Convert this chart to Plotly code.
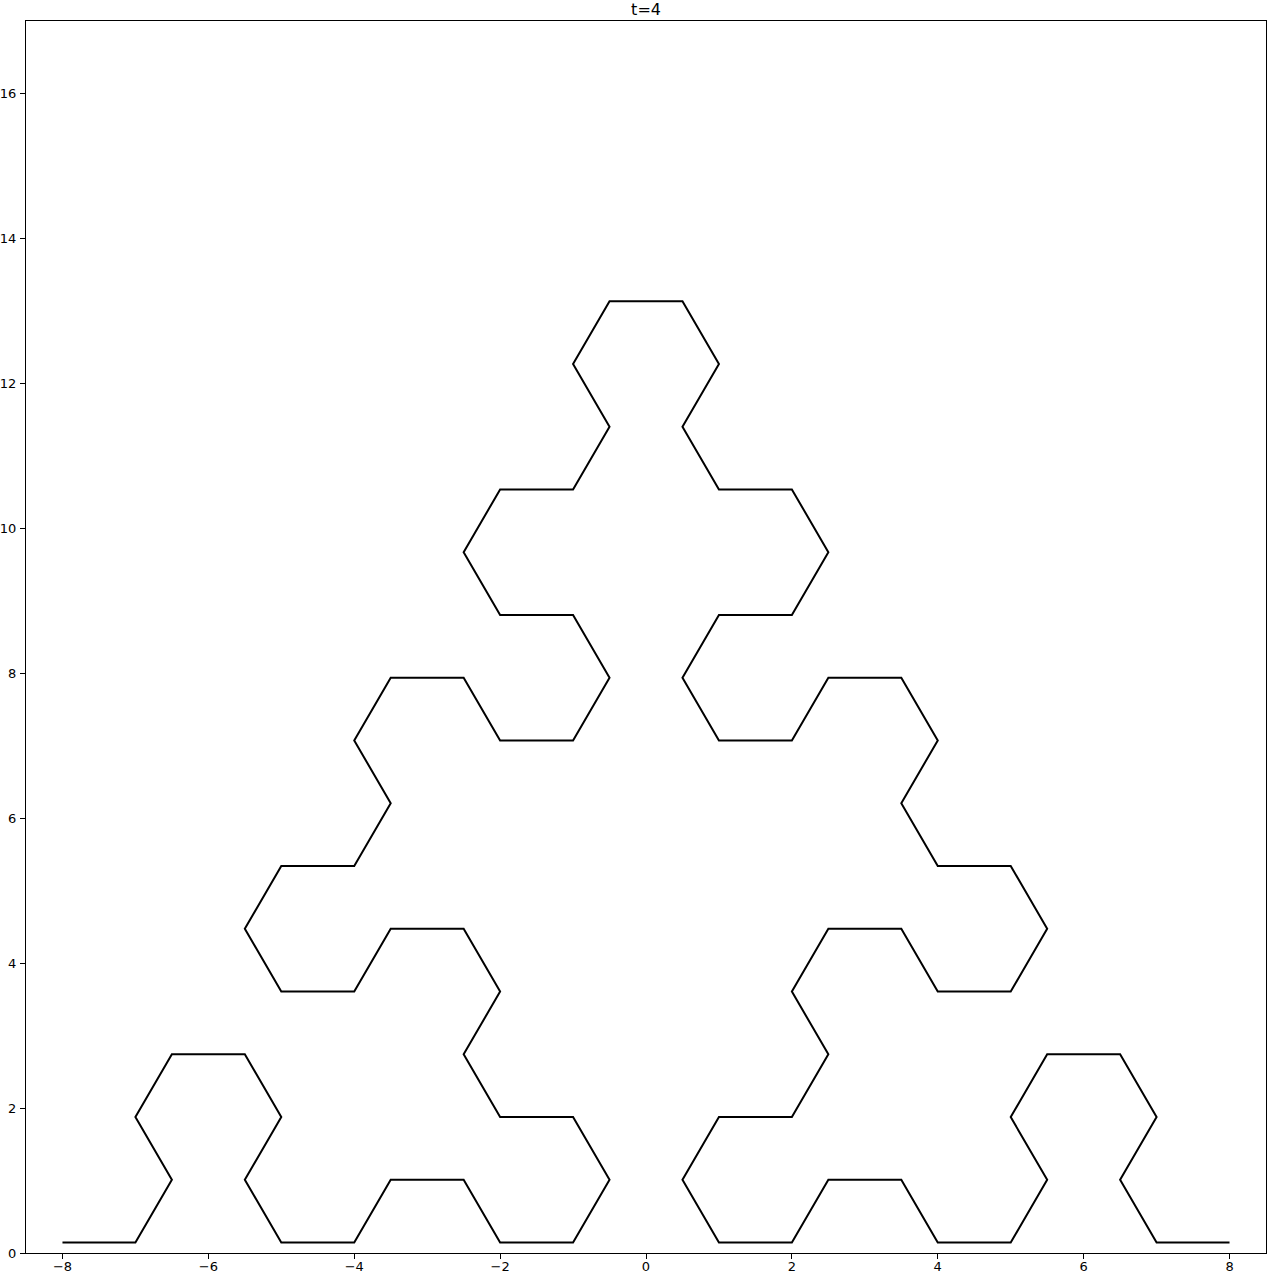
import plotly.graph_objects as go

# Vertices of the curve (corners)
x_pts = [-8, -7, -6.5, -7, -6.5, -5.5, -5, -5.5, -5, -4, -3.5, -2.5, -2, -1, -0.5, -1, -2, -2.5,
         -2, -2.5, -3.5, -4, -5, -5.5, -5, -4, -3.5, -4, -3.5, -2.5, -2, -1, -0.5, -1, -2, -2.5,
         -2, -1, -0.5, -1, -0.5, 0.5, 1, 0.5, 1, 2, 2.5, 2, 1, 0.5, 1, 2, 2.5, 3.5, 4, 3.5, 4, 5,
         5.5, 5, 4, 3.5, 2.5, 2, 2.5, 2, 1, 0.5, 1, 2, 2.5, 3.5, 4, 5, 5.5, 5, 5.5, 6.5, 7, 6.5, 7, 8]
levels = [0.144, 1.010, 1.876, 2.742, 3.608, 4.474, 5.340, 6.206, 7.072, 7.938, 8.804,
          9.670, 10.536, 11.402, 12.268, 13.134]
lvl_idx = [0, 0, 1, 2, 3, 3, 2, 1, 0, 0, 1, 1, 0, 0, 1, 2, 2, 3,
           4, 5, 5, 4, 4, 5, 6, 6, 7, 8, 9, 9, 8, 8, 9, 10, 10, 11,
           12, 12, 13, 14, 15, 15, 14, 13, 12, 12, 11, 10, 10, 9, 8, 8, 9, 9, 8, 7, 6, 6,
           5, 4, 4, 5, 5, 4, 3, 2, 2, 1, 0, 0, 1, 1, 0, 0, 1, 2, 3, 3, 2, 1, 0, 0]
y_pts = [levels[i] for i in lvl_idx]

x_ticks = [-8, -6, -4, -2, 0, 2, 4, 6, 8]
y_ticks = [0, 2, 4, 6, 8, 10, 12, 14, 16]

fig = go.Figure()
fig.add_trace(go.Scatter(x=x_pts, y=y_pts, mode="lines",
                         line=dict(color="black", width=2), showlegend=False,
                         hoverinfo="skip"))

axis_common = dict(showgrid=False, zeroline=False, showline=True, linecolor="black",
                   linewidth=1, mirror=True, ticks="outside", ticklen=5, tickwidth=1,
                   tickcolor="black", automargin=False,
                   tickfont=dict(family="DejaVu Sans", size=13, color="black"))
fig.update_xaxes(range=[-8.5, 8.5], tickvals=x_ticks, ticklabelstandoff=-4, **axis_common)
fig.update_yaxes(range=[0, 17], tickvals=y_ticks, ticklabelstandoff=1, **axis_common)

fig.update_layout(
    width=1268, height=1274,
    margin=dict(l=26, r=2, t=21, b=21),
    paper_bgcolor="white", plot_bgcolor="white",
    title=dict(text="t=4", x=0.5095, xanchor="center", y=0.9925, yanchor="middle",
               automargin=False,
               font=dict(family="DejaVu Sans", size=16, color="black")),
)
fig.write_html(
    "out.html",
    config={"responsive": False, "displayModeBar": False},
    post_script="document.body.style.margin='0';document.body.style.overflow='hidden';",
)
